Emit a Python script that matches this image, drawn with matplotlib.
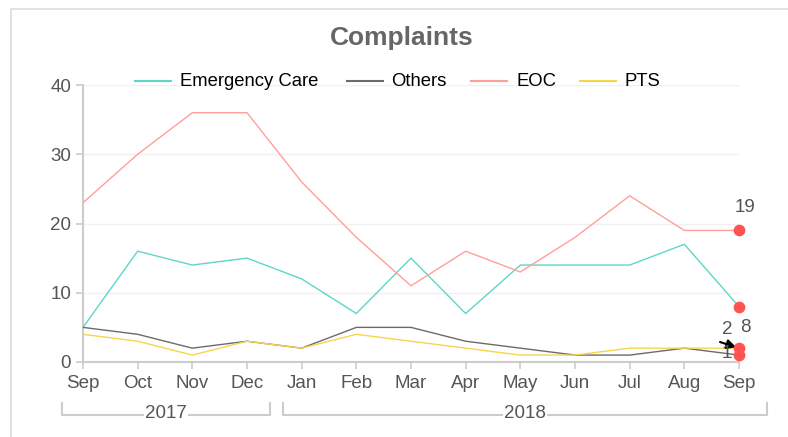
import matplotlib.pyplot as plt
from matplotlib.lines import Line2D

plt.rcParams.update({
    'font.family': ['Liberation Sans', 'DejaVu Sans'],
    'font.size': 12,
})

months = ['Sep', 'Oct', 'Nov', 'Dec', 'Jan', 'Feb', 'Mar', 'Apr', 'May',
          'Jun', 'Jul', 'Aug', 'Sep']
emergency_care = [5, 16, 14, 15, 12, 7, 15, 7, 14, 14, 14, 17, 8]
others = [5, 4, 2, 3, 2, 5, 5, 3, 2, 1, 1, 2, 1]
eoc = [23, 30, 36, 36, 26, 18, 11, 16, 13, 18, 24, 19, 19]
pts = [4, 3, 1, 3, 2, 4, 3, 2, 1, 1, 2, 2, 2]

series = [
    ('Emergency Care', emergency_care, '#5fd6c8'),
    ('Others', others, '#6b6b6b'),
    ('EOC', eoc, '#ff9f9a'),
    ('PTS', pts, '#f6d54a'),
]

W, H = 788, 437
fig = plt.figure(figsize=(W / 100, H / 100), dpi=100)


def fx(px):
    return px / W


def fy(py):
    return 1 - py / H


ax = fig.add_axes([fx(83), fy(362), fx(739) - fx(83), fy(85) - fy(362)])

x = list(range(len(months)))
for name, vals, color in series:
    ax.plot(x, vals, color=color, linewidth=1.0, zorder=3)

# highlighted last points
for _, vals, _ in series:
    ax.scatter(x[-1], vals[-1], s=55, color='#ff5252', zorder=5, clip_on=False)

ax.set_xlim(0, len(months) - 1)
ax.set_ylim(0, 40)
ax.set_yticks([0, 10, 20, 30, 40])
ax.set_xticks(x)
ax.set_xticklabels(months)
ax.tick_params(colors='#cccccc', labelcolor='#555555', labelsize=13.5,
               length=5, width=1.2)
ax.tick_params(axis='x', pad=4)
ax.grid(axis='y', color='#f0f0f0', linewidth=1)
ax.set_axisbelow(True)
for side in ['top', 'right']:
    ax.spines[side].set_visible(False)
for side in ['left', 'bottom']:
    ax.spines[side].set_color('#cccccc')
    ax.spines[side].set_linewidth(1.5)

# labels on last points
lbl = dict(fontsize=13.5, color='#555555', ha='center', va='center')
fig.text(fx(745), fy(208), '19', **lbl)
fig.text(fx(745), fy(327), '8', **lbl)
fig.text(fx(727), fy(330), '2', **lbl)
fig.text(fx(727), fy(353), '1', **lbl)
ax.annotate('', xy=(12, 2), xytext=(720, H - 342), textcoords='figure pixels',
            arrowprops=dict(arrowstyle='-|>', color='black', lw=1.5,
                            mutation_scale=14, shrinkA=0, shrinkB=2))

# title
fig.text(fx(402), fy(38), 'Complaints', fontsize=19, fontweight='bold',
         color='#666666', ha='center', va='center')

# legend
legend_items = [(135, 180), (347, 391), (471, 516), (580, 625)]
for (lx, tx), (name, _, color) in zip(legend_items, series):
    fig.add_artist(Line2D([fx(lx), fx(lx + 36)], [fy(81), fy(81)],
                          color=color, linewidth=1.5))
    fig.text(fx(tx), fy(81), name, fontsize=13.3, color='black',
             ha='left', va='center')

# year brackets
years = [('2017', 62, 270), ('2018', 283, 767)]
for label, x0, x1 in years:
    yb = 415
    fig.add_artist(Line2D([fx(x0), fx(x0), fx(x1), fx(x1)],
                          [fy(403), fy(yb), fy(yb), fy(403)],
                          color='#cccccc', linewidth=1.5))
    fig.text(fx((x0 + x1) / 2), fy(413), label, fontsize=13.5,
             color='#555555', ha='center', va='center',
             bbox=dict(facecolor='white', edgecolor='none', pad=1))

# chart frame
fig.add_artist(Line2D([fx(11), fx(11), fx(W)], [0, fy(9), fy(9)],
                      color='#dddddd', linewidth=1.2))

fig.savefig('out.png', dpi=100)
